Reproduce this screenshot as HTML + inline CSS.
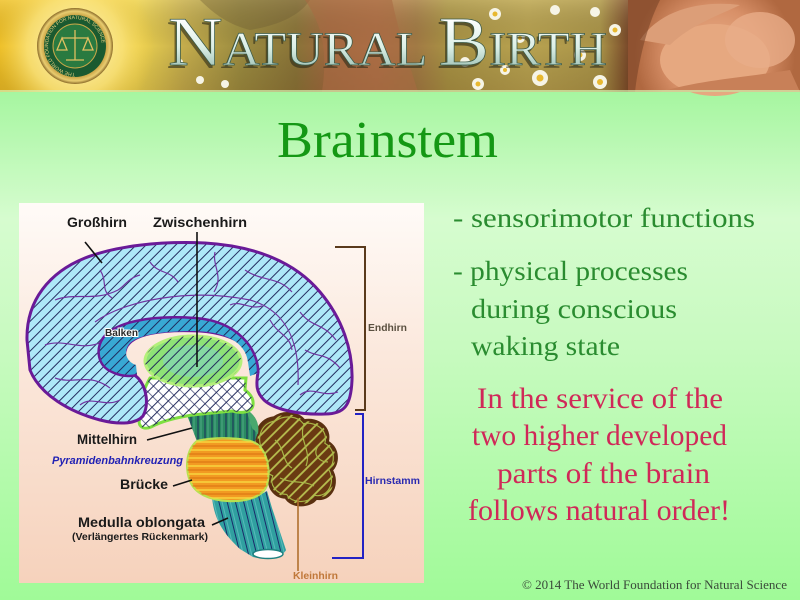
<!DOCTYPE html>
<html><head><meta charset="utf-8"><style>
html,body{margin:0;padding:0;width:800px;height:600px;overflow:hidden;background:#b0f8a8}
svg{display:block}
</style></head><body>
<svg width="800" height="600" viewBox="0 0 800 600" xmlns="http://www.w3.org/2000/svg">
<defs>
<linearGradient id="bg" x1="0" y1="92" x2="0" y2="600" gradientUnits="userSpaceOnUse">
<stop offset="0" stop-color="#a6f6a0"/><stop offset="0.25" stop-color="#d6fccf"/><stop offset="0.5" stop-color="#c8fac0"/><stop offset="1" stop-color="#a0fa98"/>
</linearGradient>
<linearGradient id="panel" x1="0" y1="203" x2="0" y2="583" gradientUnits="userSpaceOnUse">
<stop offset="0" stop-color="#fffbf8"/><stop offset="0.4" stop-color="#fbe8dc"/><stop offset="1" stop-color="#f6d2bc"/>
</linearGradient>
<linearGradient id="hdr" x1="0" y1="0" x2="800" y2="0" gradientUnits="userSpaceOnUse">
<stop offset="0" stop-color="#eebf26"/><stop offset="0.1" stop-color="#f6d84a"/><stop offset="0.17" stop-color="#eed450"/><stop offset="0.23" stop-color="#c4ac4c"/><stop offset="0.3" stop-color="#9c8c40"/><stop offset="0.37" stop-color="#8a7438"/><stop offset="0.41" stop-color="#a06a40"/><stop offset="0.47" stop-color="#b07248"/><stop offset="0.52" stop-color="#a27a44"/><stop offset="0.56" stop-color="#a89244"/><stop offset="0.66" stop-color="#b8a250"/><stop offset="0.75" stop-color="#aa9448"/><stop offset="0.785" stop-color="#7a4a2a"/><stop offset="0.82" stop-color="#c88058"/><stop offset="0.9" stop-color="#e0a078"/><stop offset="1" stop-color="#c88060"/>
</linearGradient>
<linearGradient id="hdrv" x1="0" y1="0" x2="0" y2="92" gradientUnits="userSpaceOnUse">
<stop offset="0" stop-color="#fff4c0" stop-opacity="0.2"/><stop offset="0.5" stop-color="#000" stop-opacity="0"/><stop offset="1" stop-color="#402000" stop-opacity="0.15"/>
</linearGradient>
<radialGradient id="glow" cx="75" cy="46" r="80" gradientUnits="userSpaceOnUse">
<stop offset="0" stop-color="#fff8c8"/><stop offset="0.6" stop-color="#fae27a" stop-opacity="0.8"/><stop offset="1" stop-color="#f0c840" stop-opacity="0"/>
</radialGradient>
<radialGradient id="ring" cx="75" cy="46" r="38" gradientUnits="userSpaceOnUse">
<stop offset="0.8" stop-color="#c8a040"/><stop offset="0.92" stop-color="#e8cc70"/><stop offset="1" stop-color="#8a6a28"/>
</radialGradient>
<radialGradient id="face" cx="715" cy="55" r="80" gradientUnits="userSpaceOnUse">
<stop offset="0" stop-color="#eab08a"/><stop offset="0.6" stop-color="#d89068"/><stop offset="1" stop-color="#b06840"/>
</radialGradient>
<linearGradient id="txt" x1="0" y1="18" x2="0" y2="66" gradientUnits="userSpaceOnUse">
<stop offset="0" stop-color="#ffffff"/><stop offset="0.6" stop-color="#dcefe6"/><stop offset="1" stop-color="#a8c8bc"/>
</linearGradient>
<pattern id="hatch" width="7" height="10" patternUnits="userSpaceOnUse" patternTransform="rotate(45)">
<line x1="3.5" y1="0" x2="3.5" y2="10" stroke="#1c2458" stroke-width="0.95"/>
</pattern>
<pattern id="hatch2" width="8" height="10" patternUnits="userSpaceOnUse" patternTransform="rotate(-45)">
<line x1="3.5" y1="0" x2="3.5" y2="10" stroke="#1c2458" stroke-width="0.9"/>
</pattern>
<pattern id="yhatch" width="8" height="10" patternUnits="userSpaceOnUse" patternTransform="rotate(45)">
<line x1="4" y1="0" x2="4" y2="10" stroke="#b8c050" stroke-width="1.8"/>
</pattern>
<pattern id="vstr" width="7" height="10" patternUnits="userSpaceOnUse">
<line x1="2" y1="0" x2="2" y2="10" stroke="#1a2a5a" stroke-width="1"/>
<line x1="5" y1="0" x2="5" y2="10" stroke="#5ab090" stroke-width="0.8"/>
</pattern>
<pattern id="mstr" width="8" height="10" patternUnits="userSpaceOnUse" patternTransform="rotate(-14)">
<line x1="3" y1="0" x2="3" y2="10" stroke="#1a2a6a" stroke-width="1"/>
<line x1="6" y1="0" x2="6" y2="10" stroke="#60c0c0" stroke-width="0.8"/>
</pattern>
<pattern id="hstr" width="10" height="8" patternUnits="userSpaceOnUse">
<line x1="0" y1="2" x2="10" y2="2" stroke="#f8d840" stroke-width="1.4"/>
<line x1="0" y1="6" x2="10" y2="6" stroke="#d87010" stroke-width="1"/>
</pattern>
<path id="cb" d="M262,452 C252,440 257,420 274,418 C284,411 298,413 304,421 C317,418 331,428 327,442 C339,449 338,464 331,470 C339,483 331,501 316,498 C310,507 291,507 286,497 C275,497 267,486 271,477 C259,472 256,460 262,452 Z"/>
<clipPath id="cbclip"><use href="#cb"/></clipPath>
</defs>

<!-- page background -->
<rect x="0" y="0" width="800" height="600" fill="url(#bg)"/>

<!-- header -->
<rect x="0" y="0" width="800" height="92" fill="url(#hdr)"/>
<rect x="0" y="0" width="800" height="92" fill="url(#hdrv)"/>
<rect x="0" y="0" width="200" height="92" fill="url(#glow)"/>
<path d="M200,0 L310,0 C300,15 280,25 250,30 C230,25 215,15 200,0 Z" fill="#6a5a30" opacity="0.35"/>
<path d="M305,0 C322,25 328,50 322,92 L418,92 C408,60 398,30 392,0 Z" fill="#a86a42" opacity="0.6"/>
<g fill="#f6f4e6">
<circle cx="495" cy="14" r="6"/><circle cx="520" cy="38" r="5"/><circle cx="465" cy="62" r="5"/><circle cx="540" cy="78" r="8"/><circle cx="580" cy="55" r="6"/><circle cx="600" cy="82" r="7"/><circle cx="615" cy="30" r="6"/><circle cx="478" cy="84" r="6"/><circle cx="555" cy="10" r="5"/><circle cx="595" cy="12" r="5"/><circle cx="505" cy="70" r="5"/><circle cx="200" cy="80" r="4"/><circle cx="225" cy="84" r="4"/><circle cx="180" cy="62" r="3"/>
</g>
<g fill="#e8b830"><circle cx="540" cy="78" r="3.5"/><circle cx="600" cy="82" r="3"/><circle cx="495" cy="14" r="2.5"/><circle cx="580" cy="55" r="2.5"/><circle cx="615" cy="30" r="2.5"/><circle cx="478" cy="84" r="2.5"/><circle cx="505" cy="70" r="2"/><circle cx="520" cy="38" r="2"/></g>
<rect x="628" y="0" width="172" height="92" fill="url(#face)"/>
<ellipse cx="715" cy="60" rx="55" ry="36" fill="#e6a880"/>
<path d="M640,40 C660,10 700,0 740,5 C720,15 690,25 670,45 Z" fill="#dc9e78"/>
<path d="M628,0 L660,0 C650,20 640,50 635,92 L628,92 Z" fill="#7a4428" opacity="0.6"/>
<path d="M660,92 C700,80 740,78 790,70 L800,92 Z" fill="#c88058"/>
<ellipse cx="760" cy="40" rx="35" ry="28" fill="#e8ac88" opacity="0.8"/>
<circle cx="75" cy="46" r="38" fill="url(#ring)"/>
<circle cx="75" cy="46" r="31" fill="#1a5a30"/>
<circle cx="75" cy="46" r="22" fill="#2a7a40" stroke="#c8a848" stroke-width="1"/>
<path id="lp" d="M75,73 A27,27 0 1,1 75.1,73" fill="none"/>
<text font-family="Liberation Sans, sans-serif" font-size="5" fill="#e8d080"><textPath href="#lp">THE WORLD FOUNDATION FOR NATURAL SCIENCE</textPath></text>
<g stroke="#e0c060" stroke-width="1.3" fill="none">
<line x1="75" y1="30" x2="75" y2="60"/><line x1="62" y1="38" x2="88" y2="38"/>
<path d="M62,38 L57,50 L67,50 Z"/><path d="M88,38 L83,50 L93,50 Z"/>
<path d="M66,60 L84,60"/>
</g>
<text x="166" y="68" font-family="Liberation Serif, serif" fill="#2a2a18" opacity="0.6" textLength="439" lengthAdjust="spacingAndGlyphs"><tspan font-size="70">N</tspan><tspan font-size="48">ATURAL </tspan><tspan font-size="70">B</tspan><tspan font-size="48">IRTH</tspan></text>
<text x="168" y="65" font-family="Liberation Serif, serif" fill="url(#txt)" stroke="#3a5a48" stroke-width="0.7" textLength="439" lengthAdjust="spacingAndGlyphs"><tspan font-size="70">N</tspan><tspan font-size="48">ATURAL </tspan><tspan font-size="70">B</tspan><tspan font-size="48">IRTH</tspan></text>
<rect x="0" y="90" width="800" height="2" fill="#d8f0b0" opacity="0.7"/>

<!-- main title -->
<text x="277" y="157" font-family="Liberation Serif, serif" font-size="52" fill="#149814" textLength="221" lengthAdjust="spacingAndGlyphs">Brainstem</text>

<!-- diagram panel -->
<rect x="19" y="203" width="405" height="380" fill="url(#panel)"/>

<!-- cerebellum -->
<use href="#cb" fill="#6a3a12" stroke="#5a3010" stroke-width="3.5"/>
<rect x="250" y="405" width="95" height="110" fill="url(#yhatch)" clip-path="url(#cbclip)"/>
<use href="#cb" fill="none" stroke="#a8b848" stroke-width="1.2" transform="translate(296 460) scale(0.93) translate(-296 -460)"/>
<g fill="none" stroke="#a8b848" stroke-width="1.2">
<path d="M275,440 C285,448 282,462 292,468"/><path d="M304,424 C298,440 312,450 306,466"/><path d="M280,478 C292,484 304,480 314,486"/><path d="M318,446 C312,455 320,462 328,462"/>
</g>
<use href="#cb" fill="none" stroke="#5a3010" stroke-width="1.5"/>
<line x1="298" y1="498" x2="298" y2="571" stroke="#b0702e" stroke-width="1.6"/>

<!-- medulla -->
<path d="M212,497 C230,502 255,499 267,491 L272,508 L286,550 C284,556 265,560 253,557 L240,549 C224,534 214,520 212,497 Z" fill="#30a0a0"/>
<path d="M212,497 C230,502 255,499 267,491 L272,508 L286,550 C284,556 265,560 253,557 L240,549 C224,534 214,520 212,497 Z" fill="url(#mstr)"/>
<ellipse cx="268" cy="554" rx="15" ry="4.5" fill="#ffffff" stroke="#1e8080" stroke-width="1.5"/>

<!-- midbrain -->
<path d="M184,407 L246,409 C252,414 258,420 258,432 L254,444 L198,444 Z" fill="#2a8a62"/>
<path d="M184,407 L246,409 C252,414 258,420 258,432 L254,444 L198,444 Z" fill="url(#vstr)"/>
<path d="M246,409 C254,414 260,422 258,434 L252,428 Z" fill="#4aa86e"/>

<!-- pons -->
<path d="M197,441 C215,437 246,437 257,444 C267,452 271,470 267,485 C263,497 246,502 228,501 C210,500 195,494 190,481 C185,468 186,450 197,441 Z" fill="#f29a22" stroke="#b8e050" stroke-width="2.2"/>
<path d="M197,441 C215,437 246,437 257,444 C267,452 271,470 267,485 C263,497 246,502 228,501 C210,500 195,494 190,481 C185,468 186,450 197,441 Z" fill="url(#hstr)"/>

<!-- hypothalamus -->
<path d="M150,378 C142,392 138,408 141,417 C136,424 142,431 151,427 C162,421 175,418 192,415 L232,411 C242,414 252,412 253,405 C254,398 249,393 245,390 L246,378 Z" fill="#ffffff" stroke="#7ee040" stroke-width="3"/>
<path d="M150,378 C142,392 138,408 141,417 C136,424 142,431 151,427 C162,421 175,418 192,415 L232,411 C242,414 252,412 253,405 C254,398 249,393 245,390 L246,378 Z" fill="url(#hatch)"/>
<path d="M150,378 C142,392 138,408 141,417 C136,424 142,431 151,427 C162,421 175,418 192,415 L232,411 C242,414 252,412 253,405 C254,398 249,393 245,390 L246,378 Z" fill="url(#hatch2)" opacity="0.7"/>
<!-- thalamus -->
<ellipse cx="193" cy="361" rx="48" ry="25" fill="#8ee276" stroke="#b4f07a" stroke-width="3"/>
<ellipse cx="193" cy="361" rx="30" ry="16" fill="#80d4c0" opacity="0.6"/>
<ellipse cx="193" cy="361" rx="48" ry="25" fill="url(#hatch)"/>

<!-- cerebrum -->
<path d="M27,340 C26,300 50,272 85,258 C115,246 160,241 205,243 C255,246 295,262 320,292 C342,318 353,350 352,380 C351,405 345,414 325,414 C300,415 275,410 264,400 C256,392 256,385 258,372 C258,352 240,334 200,331 C160,329 132,334 126,348 C121,360 128,370 138,378 C147,388 149,405 143,416 C136,424 120,425 100,420 C70,412 40,395 30,370 Z" fill="#aee8f8"/>
<path d="M27,340 C26,300 50,272 85,258 C115,246 160,241 205,243 C255,246 295,262 320,292 C342,318 353,350 352,380 C351,405 345,414 325,414 C300,415 275,410 264,400 C256,392 256,385 258,372 C258,352 240,334 200,331 C160,329 132,334 126,348 C121,360 128,370 138,378 C147,388 149,405 143,416 C136,424 120,425 100,420 C70,412 40,395 30,370 Z" fill="url(#hatch)"/>
<g fill="none" stroke="#7034a0" stroke-width="1.2">
<path d="M95,322 C125,300 190,288 250,300 C285,310 300,340 298,385"/>
<path d="M55,300 C75,292 95,302 118,290 C125,286 128,278 140,275"/>
<path d="M150,262 C158,274 170,270 178,282"/>
<path d="M215,252 C212,266 224,276 214,292"/>
<path d="M245,270 C262,282 278,276 292,292"/>
<path d="M300,312 C312,328 322,322 336,340"/>
<path d="M305,350 C318,358 326,352 340,368"/>
<path d="M300,395 C312,385 322,398 338,392"/>
<path d="M45,345 C65,338 80,352 102,342"/>
<path d="M55,378 C75,385 88,372 110,388"/>
<path d="M80,405 C92,395 105,408 120,400"/>
<path d="M100,270 C108,282 100,290 112,298"/>
<path d="M270,320 C278,335 290,335 292,350"/>
<path d="M230,305 C240,300 250,310 262,306"/>
</g>
<path d="M27,340 C26,300 50,272 85,258 C115,246 160,241 205,243 C255,246 295,262 320,292 C342,318 353,350 352,380 C351,405 345,414 325,414 C300,415 275,410 264,400 C256,392 256,385 258,372 C258,352 240,334 200,331 C160,329 132,334 126,348 C121,360 128,370 138,378 C147,388 149,405 143,416 C136,424 120,425 100,420 C70,412 40,395 30,370 Z" fill="none" stroke="#6a1a98" stroke-width="3"/>

<!-- Balken -->
<path d="M258,373 C259,350 238,321 195,318 C150,315 115,322 103,338 C95,350 98,366 112,372 C120,376 130,377 137,375 L136,365 C127,362 122,352 130,343 C140,334 165,331 195,331 C230,332 246,345 248,362 L250,376 Z" fill="#38a8d4"/>
<path d="M258,373 C259,350 238,321 195,318 C150,315 115,322 103,338 C95,350 98,366 112,372 C120,376 130,377 137,375 L136,365 C127,362 122,352 130,343 C140,334 165,331 195,331 C230,332 246,345 248,362 L250,376 Z" fill="url(#hatch)"/>
<path d="M258,373 C259,350 238,321 195,318 C150,315 115,322 103,338 C95,350 98,366 112,372 C120,376 130,377 137,375" fill="none" stroke="#6a1a98" stroke-width="2.5"/>

<!-- brackets -->
<path d="M335,247 H365 V410 H355" fill="none" stroke="#5a3a1c" stroke-width="2"/>
<path d="M355,414 H363 V558 H332" fill="none" stroke="#2222c4" stroke-width="2"/>

<!-- leader lines -->
<g stroke="#111" stroke-width="1.6">
<line x1="85" y1="242" x2="102" y2="263"/>
<line x1="197" y1="232" x2="197" y2="367"/>
<line x1="147" y1="440" x2="192" y2="428"/>
<line x1="173" y1="486" x2="192" y2="480"/>
<line x1="212" y1="525" x2="228" y2="518"/>
</g>

<!-- labels -->
<g font-family="Liberation Sans, Arial, sans-serif" font-weight="bold" fill="#1a1a1a">
<text x="67" y="227" font-size="14" textLength="60" lengthAdjust="spacingAndGlyphs">Großhirn</text>
<text x="153" y="227" font-size="14" textLength="94" lengthAdjust="spacingAndGlyphs">Zwischenhirn</text>
<text x="77" y="444" font-size="13.5" textLength="60" lengthAdjust="spacingAndGlyphs">Mittelhirn</text>
<text x="120" y="489" font-size="14" textLength="48" lengthAdjust="spacingAndGlyphs">Brücke</text>
<text x="78" y="527" font-size="14" textLength="127" lengthAdjust="spacingAndGlyphs">Medulla oblongata</text>
<text x="72" y="540" font-size="10.5" textLength="136" lengthAdjust="spacingAndGlyphs">(Verlängertes Rückenmark)</text>
<text x="105" y="336" font-size="10" fill="#2a2a2a" stroke="#ffffff" stroke-width="2" paint-order="stroke" textLength="33" lengthAdjust="spacingAndGlyphs">Balken</text>
<text x="52" y="464" font-size="10.6" font-style="italic" fill="#2222b4" textLength="131" lengthAdjust="spacingAndGlyphs">Pyramidenbahnkreuzung</text>
<text x="368" y="331" font-size="10.3" fill="#5a5040" textLength="39" lengthAdjust="spacingAndGlyphs">Endhirn</text>
<text x="365" y="484" font-size="10.5" fill="#2a2ab0" textLength="55" lengthAdjust="spacingAndGlyphs">Hirnstamm</text>
<text x="293" y="579" font-size="10.4" fill="#c0783a" textLength="45" lengthAdjust="spacingAndGlyphs">Kleinhirn</text>
</g>

<!-- right text -->
<g font-family="Liberation Serif, serif" font-size="27" fill="#2a8c30">
<text x="453" y="227" textLength="302" lengthAdjust="spacingAndGlyphs">- sensorimotor functions</text>
<text x="453" y="280" textLength="235" lengthAdjust="spacingAndGlyphs">- physical processes</text>
<text x="471" y="318" textLength="206" lengthAdjust="spacingAndGlyphs">during conscious</text>
<text x="471" y="355" textLength="149" lengthAdjust="spacingAndGlyphs">waking state</text>
</g>
<g font-family="Liberation Serif, serif" font-size="30" fill="#d02858">
<text x="477" y="408" textLength="246" lengthAdjust="spacingAndGlyphs">In the service of the</text>
<text x="472" y="445" textLength="255" lengthAdjust="spacingAndGlyphs">two higher developed</text>
<text x="497" y="483" textLength="213" lengthAdjust="spacingAndGlyphs">parts of the brain</text>
<text x="468" y="520" textLength="262" lengthAdjust="spacingAndGlyphs">follows natural order!</text>
</g>
<text x="522" y="589" font-family="Liberation Serif, serif" font-size="12.5" fill="#3a4a3a" textLength="265" lengthAdjust="spacingAndGlyphs">© 2014 The World Foundation for Natural Science</text>
</svg>
</body></html>
